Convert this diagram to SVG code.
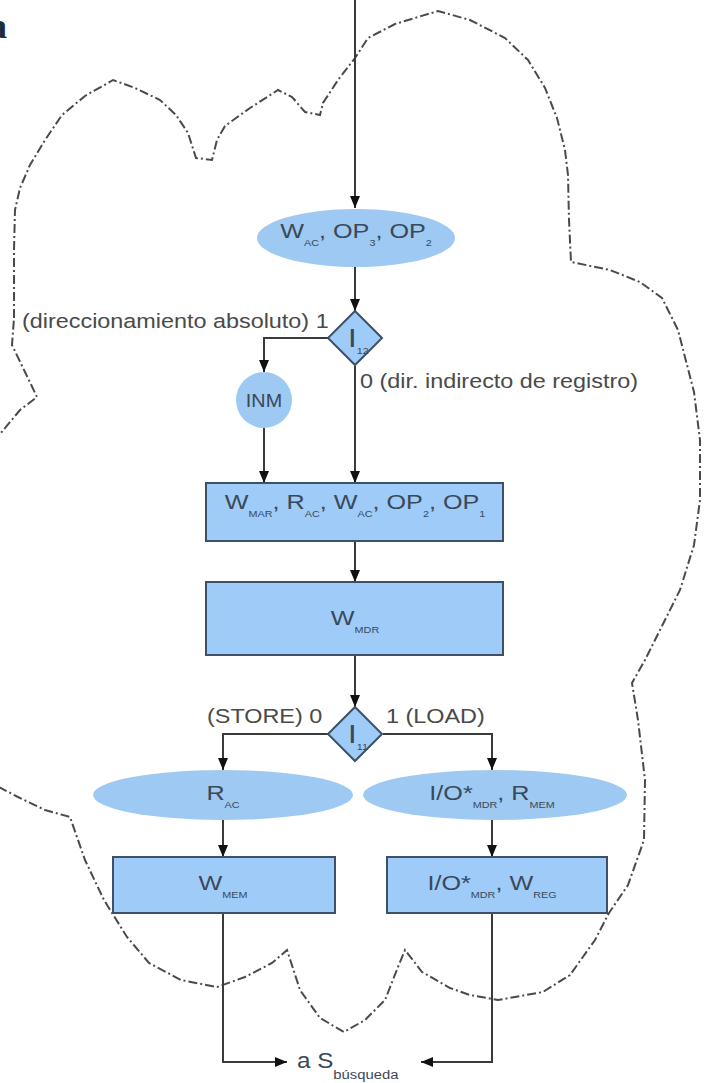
<svg xmlns="http://www.w3.org/2000/svg" width="706" height="1083" viewBox="0 0 706 1083">
<defs>
<marker id="ah" markerUnits="userSpaceOnUse" viewBox="0 0 12 10" refX="12" refY="5" markerWidth="12" markerHeight="10" orient="auto">
<path d="M0,0 L12,5 L0,10 z" fill="#111"/>
</marker>
<style>
.bg{fill:#fff}
.cloud{fill:none;stroke:#4a4a4a;stroke-width:2;stroke-dasharray:9 3 2 3}
.c{fill:none;stroke:#3a3a3a;stroke-width:2;marker-end:url(#ah)}
.ell{fill:#9dc9f2}
.box{fill:#9ecbf8;stroke:#3d5166;stroke-width:2}
.dia{fill:#9ecbf8;stroke:#3d5166;stroke-width:2}
.t{font-family:"Liberation Sans",Arial,sans-serif;font-size:21px;fill:#3a4858}
.s{font-size:9px}
.lab{font-family:"Liberation Sans",Arial,sans-serif;font-size:19.5px;fill:#4a4a4a}
</style>
</defs>
<rect class="bg" x="0" y="0" width="706" height="1083"/>
<text x="-11" y="38" font-family="Liberation Serif,serif" font-weight="bold" font-size="36" fill="#1e2b38">a</text>
<path class="cloud" d="M14,318 L14,250 L15,210 L20,188 L30,165 L45,140 L62,115 L85,96 L113,80 L135,88 L160,100 L176,115 L188,133 L196,158 L212,160 L217,140 L225,126 L250,108 L278,90 L292,97 L305,112 L320,115 L323,103 L338,80 L355,58 L368,38 L395,24 L438,11 L470,20 L505,38 L528,60 L545,88 L557,118 L565,150 L568,175 L569,220 L571,262 L610,270 L640,282 L662,298 L678,330 L694,392 L700,440 L700,500 L694,545 L680,590 L660,630 L645,660 L632,683 L638,720 L645,780 L644,840 L628,885 L609,913 L595,940 L570,975 L543,992 L498,1000 L470,995 L450,988 L422,972 L405,950 L398,967 L385,1000 L365,1020 L344,1032 L320,1018 L300,990 L287,950 L272,963 L245,977 L217,987 L181,980 L149,963 L127,937 L104,900 L85,860 L70,817 L45,810 L18,797 L-5,785 L-20,600 L-5,440 L20,410 L37,397 L25,372 L12,345 Z"/>
<g id="connectors">
<path class="c" d="M355,0 V208"/>
<path class="c" d="M355,267 V311"/>
<path class="c" d="M328,338 H264 V372"/>
<path class="c" d="M355,366 V483"/>
<path class="c" d="M264,428 V483"/>
<path class="c" d="M355,541 V582"/>
<path class="c" d="M355,655 V707"/>
<path class="c" d="M328,734 H223 V770"/>
<path class="c" d="M383,734 H492 V770"/>
<path class="c" d="M223,820 V857"/>
<path class="c" d="M492,820 V857"/>
<path class="c" d="M223,913 V1062 H287"/>
<path class="c" d="M492,913 V1062 H421"/>
</g>
<g id="n-e1">
<ellipse class="ell" cx="356" cy="238" rx="99" ry="29"/>
<text class="t" transform="translate(356,238) scale(1.2,1)" text-anchor="middle">W<tspan class="s" dy="8">AC</tspan><tspan dy="-8">, OP</tspan><tspan class="s" dy="8">3</tspan><tspan dy="-8">, OP</tspan><tspan class="s" dy="8">2</tspan></text>
</g>
<g id="n-i12">
<polygon class="dia" points="355,311 382,338 355,365 328,338"/>
<text class="t" transform="translate(348,347) scale(1.2,1)" style="font-size:26px">I<tspan class="s" dy="7">12</tspan></text>
</g>
<g id="l-abs"><text class="lab" transform="translate(22,328) scale(1.2,1)">(direccionamiento absoluto) 1</text></g>
<g id="l-ind"><text class="lab" transform="translate(360,388) scale(1.2,1)">0 (dir. indirecto de registro)</text></g>
<g id="n-inm">
<circle class="ell" cx="264" cy="400" r="28"/>
<text class="t" transform="translate(264,407) scale(1.1,1)" text-anchor="middle" style="font-size:18px">INM</text>
</g>
<g id="n-b1">
<rect class="box" x="206" y="483" width="297" height="58"/>
<text class="t" transform="translate(355,509) scale(1.2,1)" text-anchor="middle">W<tspan class="s" dy="8">MAR</tspan><tspan dy="-8">, R</tspan><tspan class="s" dy="8">AC</tspan><tspan dy="-8">, W</tspan><tspan class="s" dy="8">AC</tspan><tspan dy="-8">, OP</tspan><tspan class="s" dy="8">2</tspan><tspan dy="-8">, OP</tspan><tspan class="s" dy="8">1</tspan></text>
</g>
<g id="n-b2">
<rect class="box" x="206" y="582" width="297" height="73"/>
<text class="t" transform="translate(355,625) scale(1.2,1)" text-anchor="middle">W<tspan class="s" dy="8">MDR</tspan></text>
</g>
<g id="n-i11">
<polygon class="dia" points="355,707 382,734 355,761 328,734"/>
<text class="t" transform="translate(348,743) scale(1.2,1)" style="font-size:26px">I<tspan class="s" dy="7">11</tspan></text>
</g>
<g id="l-store"><text class="lab" transform="translate(207,723) scale(1.2,1)">(STORE) 0</text></g>
<g id="l-load"><text class="lab" transform="translate(386,723) scale(1.2,1)">1 (LOAD)</text></g>
<g id="n-e2">
<ellipse class="ell" cx="223" cy="795" rx="130" ry="25"/>
<text class="t" transform="translate(223,800) scale(1.2,1)" text-anchor="middle">R<tspan class="s" dy="8">AC</tspan></text>
</g>
<g id="n-e3">
<ellipse class="ell" cx="495" cy="795" rx="132" ry="25"/>
<text class="t" transform="translate(492,800) scale(1.2,1)" text-anchor="middle">I/O*<tspan class="s" dy="8">MDR</tspan><tspan dy="-8">, R</tspan><tspan class="s" dy="8">MEM</tspan></text>
</g>
<g id="n-b3">
<rect class="box" x="113" y="857" width="222" height="56"/>
<text class="t" transform="translate(223,890) scale(1.2,1)" text-anchor="middle">W<tspan class="s" dy="8">MEM</tspan></text>
</g>
<g id="n-b4">
<rect class="box" x="387" y="857" width="220" height="56"/>
<text class="t" transform="translate(492,890) scale(1.2,1)" text-anchor="middle">I/O*<tspan class="s" dy="8">MDR</tspan><tspan dy="-8">, W</tspan><tspan class="s" dy="8">REG</tspan></text>
</g>
<g id="n-end">
<text class="t" transform="translate(297,1068) scale(1.1,1)" style="font-size:22px">a S<tspan dy="11" style="font-size:13.5px">búsqueda</tspan></text>
</g>
</svg>
